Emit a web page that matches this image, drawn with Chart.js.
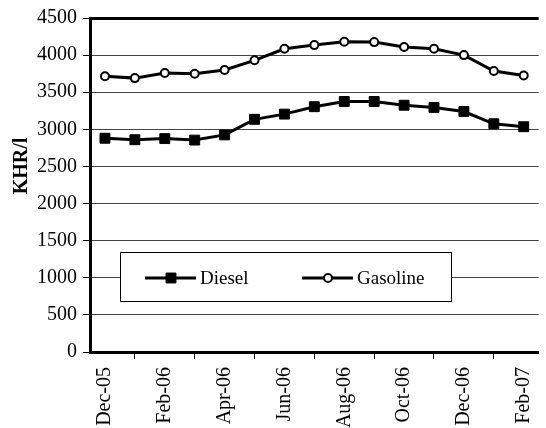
<!DOCTYPE html>
<html>
<head>
<meta charset="utf-8">
<script src="https://cdn.jsdelivr.net/npm/chart.js@4"></script>
<style>
  html, body { margin: 0; padding: 0; background: #fff; overflow: hidden; }
  canvas { display: block; }
</style>
</head>
<body>
<canvas id="chart" width="556" height="428"></canvas>
<script>
const months = ['Dec-05', 'Jan-06', 'Feb-06', 'Mar-06', 'Apr-06', 'May-06', 'Jun-06', 'Jul-06',
    'Aug-06', 'Sep-06', 'Oct-06', 'Nov-06', 'Dec-06', 'Jan-07', 'Feb-07'];
const diesel = [2880, 2860, 2875, 2855, 2925, 3135, 3205, 3305, 3375, 3375, 3325, 3295, 3240, 3075, 3035];
const gasoline = [3715, 3690, 3760, 3750, 3800, 3930, 4085, 4135, 4180, 4175, 4110, 4085, 4000, 3785, 3725];
const yTitle = 'KHR/l';

const FONT = "'Liberation Serif', 'Times New Roman', serif";

// legend box drawn inside the plot, like the original
const boxLegend = {
    id: 'boxLegend',
    afterDatasetsDraw(chart) {
        const ctx = chart.ctx;
        ctx.save();
        ctx.fillStyle = '#fff';
        ctx.strokeStyle = '#000';
        ctx.lineWidth = 1;
        ctx.fillRect(120, 252, 332, 50);
        ctx.strokeRect(120.5, 252.5, 331, 49);
        const starts = [145, 302];
        chart.data.datasets.forEach((ds, i) => {
            const x0 = starts[i], y = 278;
            ctx.strokeStyle = ds.borderColor;
            ctx.lineWidth = ds.borderWidth;
            ctx.beginPath();
            ctx.moveTo(x0, y);
            ctx.lineTo(x0 + 51, y);
            ctx.stroke();
            ctx.fillStyle = ds.pointBackgroundColor;
            ctx.strokeStyle = ds.pointBorderColor;
            ctx.lineWidth = ds.pointBorderWidth;
            Chart.helpers.drawPoint(ctx, {
                pointStyle: ds.pointStyle,
                radius: ds.pointRadius,
                rotation: 0,
                borderWidth: ds.pointBorderWidth
            }, x0 + 26, y);
            ctx.fillStyle = '#000';
            ctx.font = '19px ' + FONT;
            ctx.textBaseline = 'middle';
            ctx.fillText(ds.label, x0 + 55, y + 1);
        });
        ctx.restore();
    },
    afterDraw(chart) {
        const ctx = chart.ctx;
        ctx.save();
        ctx.translate(22, 166);
        ctx.rotate(-Math.PI / 2);
        ctx.font = 'bold 20px ' + FONT;
        ctx.fillStyle = '#000';
        ctx.textAlign = 'center';
        ctx.textBaseline = 'middle';
        ctx.fillText(yTitle, 0, 0);
        ctx.restore();
    }
};

const ctx = document.getElementById('chart').getContext('2d');
const chart = new Chart(ctx, {
    type: 'line',
    data: {
        labels: months,
        datasets: [
            {
                label: 'Diesel',
                data: diesel,
                borderColor: '#000',
                borderWidth: 3,
                pointStyle: 'rect',
                pointRadius: 7,
                pointBackgroundColor: '#000',
                pointBorderColor: '#000',
                pointBorderWidth: 1,
                tension: 0
            },
            {
                label: 'Gasoline',
                data: gasoline,
                borderColor: '#000',
                borderWidth: 3,
                pointStyle: 'circle',
                pointRadius: 4,
                pointBackgroundColor: '#fff',
                pointBorderColor: '#000',
                pointBorderWidth: 2,
                tension: 0
            }
        ]
    },
    options: {
        responsive: false,
        animation: false,
        layout: { padding: { top: 16, right: 4, left: 0, bottom: 0 } },
        plugins: {
            legend: { display: false },
            tooltip: { enabled: false }
        },
        scales: {
            x: {
                type: 'category',
                offset: true,
                afterFit: s => { s.height = 76; },
                grid: {
                    offset: true,
                    drawOnChartArea: false,
                    drawTicks: true,
                    tickLength: 7,
                    tickColor: '#000',
                    tickWidth: 1
                },
                border: { color: '#000', width: 3 },
                ticks: {
                    autoSkip: false,
                    minRotation: 90,
                    maxRotation: 90,
                    padding: 8,
                    color: '#000',
                    font: { family: FONT, size: 20 },
                    callback: (val, i) => (i % 2 === 0 ? months[i] : null)
                }
            },
            y: {
                min: 0,
                max: 4500,
                afterFit: s => { s.width = 90; },
                grid: {
                    color: c => (c.tick && c.tick.value === 4500 ? '#000' : '#444'),
                    lineWidth: c => (c.tick && c.tick.value === 4500 ? 3 : 1),
                    tickLength: 7,
                    tickColor: '#000',
                    tickWidth: 1
                },
                border: { color: '#000', width: 3 },
                ticks: {
                    stepSize: 500,
                    padding: 6,
                    color: '#000',
                    font: { family: FONT, size: 20 },
                    callback: v => String(v)
                }
            }
        }
    },
    plugins: [boxLegend]
});
</script>
</body>
</html>
